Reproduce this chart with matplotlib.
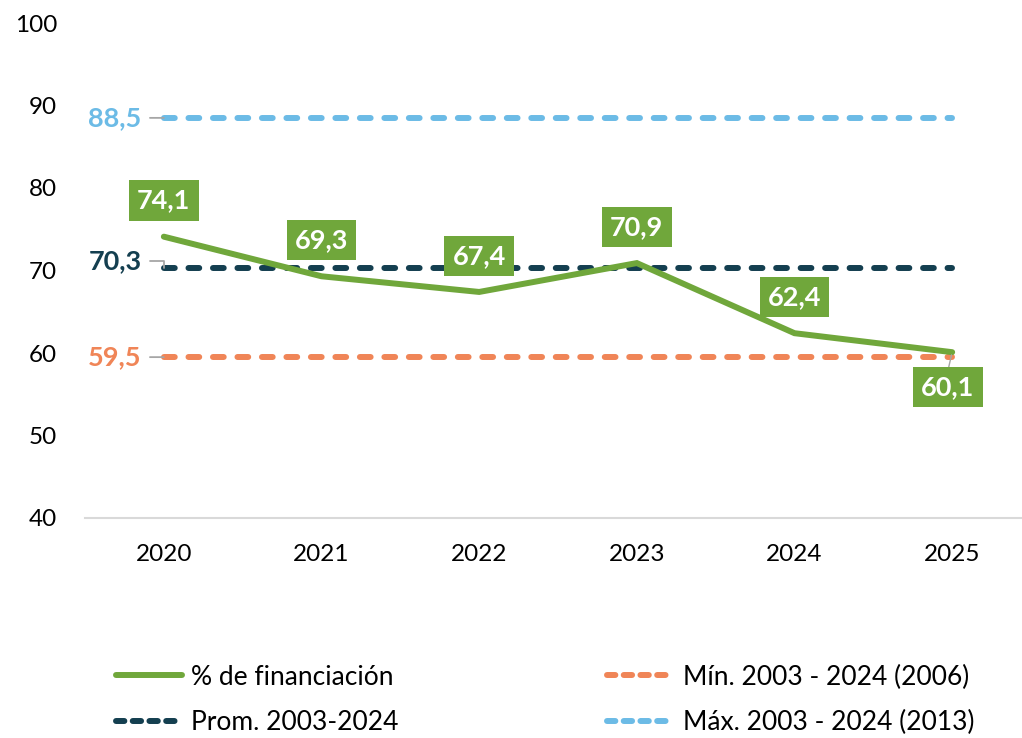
import matplotlib
matplotlib.use("Agg")
import matplotlib.pyplot as plt
from matplotlib.lines import Line2D

plt.rcParams['font.family'] = ['Lato', 'DejaVu Sans']

years = ['2020', '2021', '2022', '2023', '2024', '2025']
financiacion = [74.1, 69.3, 67.4, 70.9, 62.4, 60.1]
prom_val = 70.3
min_val = 59.5
max_val = 88.5
series_names = ['% de financiación', 'Prom. 2003-2024',
                'Mín. 2003 - 2024 (2006)', 'Máx. 2003 - 2024 (2013)']
yticks = [40, 50, 60, 70, 80, 90, 100]

GREEN = '#70A73B'
NAVY = '#143F50'
ORANGE = '#F08557'
LBLUE = '#6CBBE6'
GRAY = '#A6A6A6'

W, H = 1022, 738
fig = plt.figure(figsize=(W / 100, H / 100), dpi=100)
ax = fig.add_axes([85 / W, 1 - 518 / H, (1031 - 85) / W, (518 - 23) / H])

x = list(range(len(years)))
lw = 4.3
dash = (1.8, 2.3)

for val, col in [(max_val, LBLUE), (prom_val, NAVY), (min_val, ORANGE)]:
    ax.plot([x[0], x[-1]], [val, val], color=col, lw=lw, dashes=dash,
            dash_capstyle='round', solid_capstyle='round', zorder=2)

ax.plot(x, financiacion, color=GREEN, lw=lw, solid_capstyle='round',
        solid_joinstyle='miter', zorder=3)

# data labels
for i, v in enumerate(financiacion):
    if i == len(financiacion) - 1:
        off = (-3, -25)
        ax.annotate('', xy=(x[i], v), xytext=(-3, -13), textcoords='offset points',
                    arrowprops=dict(arrowstyle='-', color=GRAY, lw=1.0,
                                    shrinkA=0, shrinkB=2), zorder=4)
    else:
        off = (0, 26)
    ax.annotate(f'{v:.1f}'.replace('.', ','), xy=(x[i], v), xytext=off,
                textcoords='offset points', ha='center', va='center',
                fontsize=19.5, fontweight='bold', color='white', zorder=5,
                bbox=dict(boxstyle='square,pad=0.3', fc=GREEN, ec='none'))

# reference line labels
for val, col, cs in [(max_val, LBLUE, 'arc3'), (prom_val, NAVY, 'angle,angleA=0,angleB=90,rad=0'),
                     (min_val, ORANGE, 'arc3')]:
    dy = 5 if val == prom_val else 0
    ax.annotate(f'{val:.1f}'.replace('.', ','), xy=(x[0], val), xytext=(-16, dy),
                textcoords='offset points', ha='right', va='center',
                fontsize=19.5, fontweight='bold', color=col, zorder=5,
                arrowprops=dict(arrowstyle='-', color=GRAY, lw=1.3,
                                shrinkA=4, shrinkB=0, connectionstyle=cs))

ax.set_xlim(-0.5, 5.5)
ax.set_ylim(40, 100)
ax.set_xticks(x)
ax.set_xticklabels(years)
ax.set_yticks(yticks)
ax.tick_params(axis='both', length=0, labelsize=17.5, colors='black')
ax.tick_params(axis='y', pad=20)
ax.tick_params(axis='x', pad=19)
for s in ['top', 'right', 'left']:
    ax.spines[s].set_visible(False)
ax.spines['bottom'].set_color('#D9D9D9')
ax.spines['bottom'].set_linewidth(1.5)

handles = [
    Line2D([], [], color=GREEN, lw=lw, solid_capstyle='round'),
    Line2D([], [], color=NAVY, lw=lw, dashes=(1.4, 1.4), dash_capstyle='round'),
    Line2D([], [], color=ORANGE, lw=lw, dashes=(1.4, 1.4), dash_capstyle='round'),
    Line2D([], [], color=LBLUE, lw=lw, dashes=(1.4, 1.4), dash_capstyle='round'),
]
fig.legend(handles, series_names, ncol=2, loc='center',
           bbox_to_anchor=(545 / W, 1 - 700 / H), frameon=False,
           fontsize=19, handlelength=2.5, handletextpad=0.37,
           columnspacing=7.9, labelspacing=0.78, borderpad=0)

fig.savefig('out.png', dpi=100)
